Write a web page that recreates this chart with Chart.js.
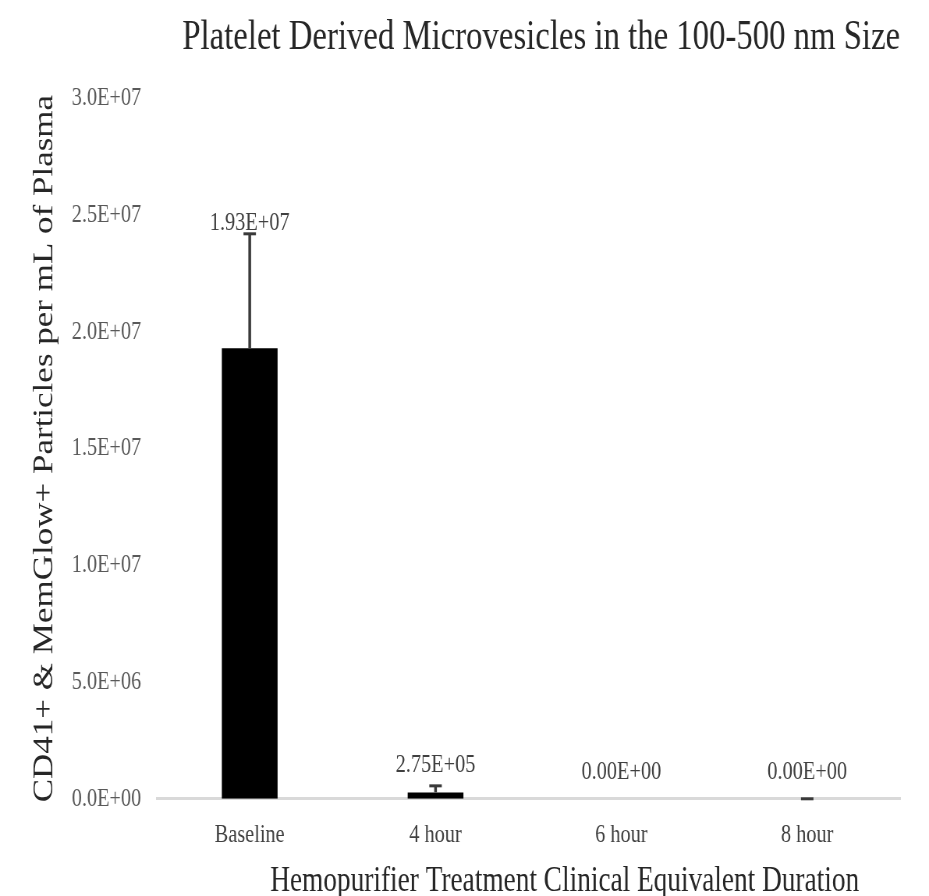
<!DOCTYPE html>
<html>
<head>
<meta charset="utf-8">
<script src="https://cdn.jsdelivr.net/npm/chart.js@4.4.1/dist/chart.umd.min.js"></script>
<style>
  html, body { margin: 0; padding: 0; background: #fff; overflow: hidden; }
  /* the figure is laid out wide and condensed horizontally, like the exported graphic */
  #frame { width: 1191px; height: 896px; transform: scaleX(0.78); transform-origin: 0 0; }
  canvas { display: block; }
</style>
</head>
<body>
<div id="frame"><canvas id="c" width="1191" height="896"></canvas></div>
<script>
// Platelet-derived microvesicle counts per treatment time point
const categories = ['Baseline', '4 hour', '6 hour', '8 hour'];
const meanCounts = [1.93e7, 2.75e5, 0, 0];
const errorCounts = [4.9e6, 2.8e5, null, 0];
const yTickLabels = ['0.0E+00', '5.0E+06', '1.0E+07', '1.5E+07', '2.0E+07', '2.5E+07', '3.0E+07'];

const SERIF = '"Liberation Serif", "Times New Roman", "DejaVu Serif", serif';

function sci(v) {
  const parts = v.toExponential(2).split('e');
  const exp = parseInt(parts[1], 10);
  const sign = exp < 0 ? '-' : '+';
  return parts[0] + 'E' + sign + String(Math.abs(exp)).padStart(2, '0');
}

// Vertical error bars with caps, drawn through the y scale
const errorBars = {
  id: 'errorBars',
  afterDatasetsDraw(chart) {
    const { ctx } = chart;
    const y = chart.scales.y;
    const meta = chart.getDatasetMeta(0);
    ctx.save();
    ctx.strokeStyle = '#3a3a3a';
    meta.data.forEach((bar, i) => {
      const e = errorCounts[i];
      if (e === null || e === undefined) return;
      const yBase = y.getPixelForValue(meanCounts[i]);
      const yTop = y.getPixelForValue(meanCounts[i] + e);
      ctx.lineWidth = 3.5;
      ctx.beginPath();
      ctx.moveTo(bar.x, yBase);
      ctx.lineTo(bar.x, yTop);
      ctx.stroke();
      ctx.lineWidth = 3;
      ctx.beginPath();
      ctx.moveTo(bar.x - 8, yTop);
      ctx.lineTo(bar.x + 8, yTop);
      ctx.stroke();
    });
    ctx.restore();
  }
};

// Value labels above each bar, kept clear of the error bar
const valueLabels = {
  id: 'valueLabels',
  afterDatasetsDraw(chart) {
    const { ctx } = chart;
    const y = chart.scales.y;
    const meta = chart.getDatasetMeta(0);
    ctx.save();
    ctx.font = '26px ' + SERIF;
    ctx.fillStyle = '#404040';
    ctx.textAlign = 'center';
    ctx.textBaseline = 'alphabetic';
    meta.data.forEach((bar, i) => {
      const barTop = y.getPixelForValue(meanCounts[i]);
      const errTop = y.getPixelForValue(meanCounts[i] + (errorCounts[i] || 0));
      const baseline = Math.min(errTop - 4, barTop - 20);
      ctx.fillText(sci(meanCounts[i]), bar.x, baseline);
    });
    ctx.restore();
  }
};

// Horizontal axis caption
const xCaption = {
  id: 'xCaption',
  afterDraw(chart, args, opts) {
    const { ctx } = chart;
    ctx.save();
    ctx.font = opts.size + 'px ' + SERIF;
    ctx.fillStyle = opts.color;
    ctx.textAlign = 'center';
    ctx.textBaseline = 'middle';
    ctx.fillText(opts.text, opts.x, opts.y);
    ctx.restore();
  }
};

new Chart(document.getElementById('c'), {
  type: 'bar',
  data: {
    labels: categories,
    datasets: [{
      data: meanCounts,
      backgroundColor: '#000000',
      borderWidth: 0,
      barPercentage: 0.3,
      categoryPercentage: 1.0
    }]
  },
  options: {
    responsive: false,
    animation: false,
    devicePixelRatio: 1,
    layout: { padding: { left: 0, right: 37, top: 0, bottom: 24 } },
    plugins: {
      legend: { display: false },
      tooltip: { enabled: false },
      title: {
        display: true,
        text: 'Platelet Derived Microvesicles in the 100-500 nm Size',
        align: 'end',
        color: '#262626',
        font: { family: SERIF, size: 42, weight: 'normal', lineHeight: 1.2 },
        padding: { top: 13, bottom: 35 }
      },
      xCaption: {
        text: 'Hemopurifier Treatment Clinical Equivalent Duration',
        size: 35,
        color: '#262626',
        x: 724,
        y: 882
      }
    },
    scales: {
      x: {
        grid: { display: false, drawTicks: false },
        border: { display: true, color: '#d9d9d9', width: 3 },
        ticks: { color: '#404040', padding: 21, font: { family: SERIF, size: 26 } }
      },
      y: {
        min: 0,
        max: 3e7,
        grid: { display: false, drawTicks: false },
        border: { display: false },
        ticks: {
          stepSize: 5e6,
          color: '#595959',
          padding: 20,
          font: { family: SERIF, size: 26 },
          callback: (v, i) => yTickLabels[i]
        },
        title: {
          display: true,
          text: 'CD41+ & MemGlow+ Particles per mL of Plasma',
          color: '#262626',
          font: { family: SERIF, size: 35, lineHeight: 1 },
          padding: { top: 40.5, bottom: 0 }
        },
        afterFit(scale) { scale.width = 201; }
      }
    }
  },
  plugins: [errorBars, valueLabels, xCaption]
});
</script>
</body>
</html>
